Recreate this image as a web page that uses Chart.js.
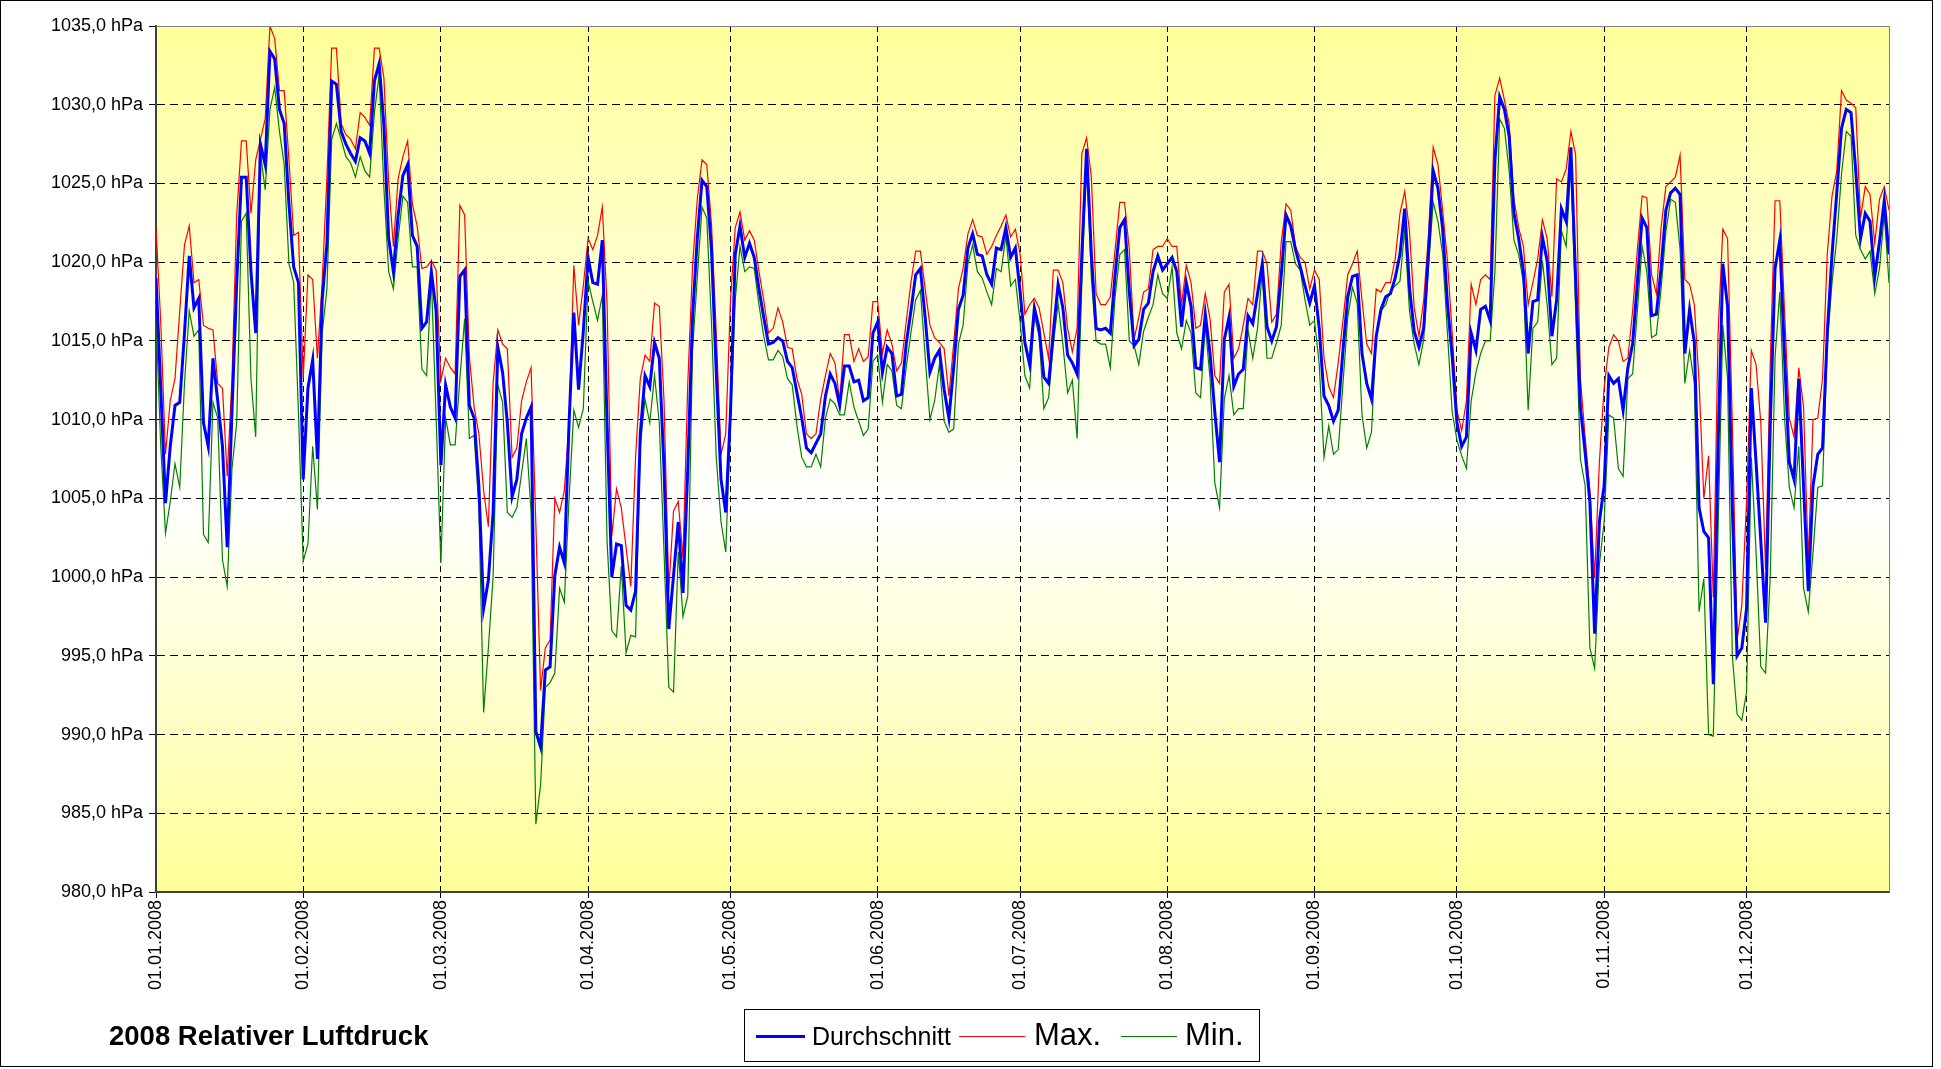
<!DOCTYPE html>
<html lang="de">
<head>
    <meta charset="UTF-8">
    <title>2008 Relativer Luftdruck</title>

    <!-- Chart.js CDN -->
    <script src="https://cdn.jsdelivr.net/npm/chart.js"></script>

    <style>
        html, body { margin: 0; padding: 0; background: #fff; }
        body { font-family: "Liberation Sans", Arial, sans-serif; }
        #wrap { position: relative; width: 1941px; height: 1069px; overflow: hidden; }
        #chart { position: absolute; left: 0; top: 0; }
        #frame {
            position: absolute; left: 0; top: 0; width: 1933px; height: 1067px;
            border: 1px solid #000; box-sizing: border-box; pointer-events: none;
        }
        #title {
            position: absolute; left: 109px; top: 1020px;
            font-weight: bold; font-size: 27.5px; line-height: 32px; white-space: nowrap;
        }
        #legend {
            position: absolute; left: 744px; top: 1009px; width: 516px; height: 53px;
            border: 1px solid #000; background: #fff; box-sizing: border-box;
        }
        #legend .line { position: absolute; height: 0; }
        #legend .txt { position: absolute; white-space: nowrap; }
    </style>
</head>
<body>
<div id="wrap">
    <canvas id="chart" width="1941" height="1069"></canvas>
    <div id="frame"></div>
    <div id="title">2008 Relativer Luftdruck</div>
    <div id="legend">
        <div class="line" style="left:11px; top:25px; width:49px; border-top:3px solid #0000ff;"></div>
        <div class="txt" style="left:67px; top:11px; font-size:25px; line-height:30px;">Durchschnitt</div>
        <div class="line" style="left:214px; top:26px; width:66px; border-top:1px solid #ff0000;"></div>
        <div class="txt" style="left:289px; top:6px; font-size:31px; line-height:38px;">Max.</div>
        <div class="line" style="left:376px; top:26px; width:56px; border-top:1px solid #008000;"></div>
        <div class="txt" style="left:440px; top:6px; font-size:31px; line-height:38px;">Min.</div>
    </div>
</div>

<script>
    // x axis: day index 0..365, labels at the first day of each month
    var monthStarts = [0, 31, 60, 91, 121, 152, 182, 213, 244, 274, 305, 335];
    var monthLabels = ['01.01.2008', '01.02.2008', '01.03.2008', '01.04.2008', '01.05.2008', '01.06.2008',
                       '01.07.2008', '01.08.2008', '01.09.2008', '01.10.2008', '01.11.2008', '01.12.2008'];

    // Durchschnitt (daily mean, hPa)
    var avgValues = [
        1019.0, 1012.0, 1004.7, 1008.3, 1010.9, 1011.1, 1015.5, 1020.4, 1017.1, 1017.7, 1009.8, 1008.3, 1013.9, 1011.2, 1008.3, 1001.9,
        1010.5, 1018.7, 1025.4, 1025.4, 1019.4, 1015.5, 1027.5, 1026.2, 1033.4, 1032.9, 1029.7, 1028.8, 1023.7, 1019.7, 1018.7,
        // Feb
        1006.2, 1012.0, 1013.8, 1007.5, 1017.6, 1021.2, 1031.5, 1031.3, 1028.3, 1027.5, 1026.9, 1026.4, 1027.9, 1027.7, 1026.9,
        1031.5, 1032.6, 1028.7, 1021.5, 1019.4, 1023.0, 1025.5, 1026.2, 1021.7, 1021.0, 1015.8, 1016.2, 1019.4, 1016.9,
        // Mar
        1007.1, 1012.2, 1010.8, 1010.1, 1019.1, 1019.5, 1010.9, 1010.1, 1005.8, 998.0, 999.8, 1004.1, 1014.6, 1013.0, 1009.8, 1005.1,
        1006.2, 1009.1, 1010.1, 1010.8, 990.2, 989.2, 994.1, 994.3, 1000.1, 1001.9, 1000.9, 1009.8, 1016.8, 1011.9, 1015.6,
        // Apr
        1020.3, 1018.7, 1018.6, 1021.4, 1009.8, 1000.0, 1002.1, 1002.0, 998.2, 997.9, 999.1, 1009.1, 1012.8, 1012.1, 1014.9,
        1013.9, 1006.9, 996.7, 1000.1, 1003.5, 999.0, 1006.9, 1016.5, 1021.5, 1025.2, 1024.8, 1020.8, 1013.0, 1006.2, 1004.1,
        // May
        1010.5, 1020.5, 1022.3, 1020.3, 1021.2, 1020.3, 1018.3, 1016.5, 1014.8, 1014.9, 1015.2, 1015.0, 1013.7, 1013.3, 1011.7, 1010.1,
        1008.2, 1007.9, 1008.5, 1009.1, 1011.5, 1012.9, 1012.3, 1010.9, 1013.4, 1013.4, 1012.4, 1012.5, 1011.2, 1011.4, 1015.5,
        // Jun
        1016.2, 1013.0, 1014.6, 1014.2, 1011.5, 1011.6, 1014.8, 1016.9, 1019.2, 1019.6, 1016.5, 1013.0, 1013.9, 1014.4, 1011.9,
        1010.1, 1013.3, 1017.0, 1017.9, 1020.9, 1021.8, 1020.5, 1020.4, 1019.2, 1018.6, 1020.9, 1020.8, 1022.2, 1020.3, 1020.9,
        // Jul
        1018.1, 1014.9, 1013.5, 1017.1, 1015.8, 1012.7, 1012.3, 1015.6, 1018.6, 1017.1, 1014.1, 1013.6, 1012.9, 1020.5, 1027.2, 1020.5,
        1015.8, 1015.7, 1015.8, 1015.5, 1019.2, 1022.2, 1022.7, 1018.1, 1014.7, 1015.1, 1017.0, 1017.4, 1019.4, 1020.4, 1019.5,
        // Aug
        1019.9, 1020.3, 1019.4, 1015.9, 1018.7, 1017.2, 1013.3, 1013.2, 1016.7, 1014.2, 1010.5, 1007.3, 1015.1, 1016.5, 1012.1, 1012.9,
        1013.2, 1016.6, 1016.1, 1018.0, 1019.9, 1015.9, 1015.0, 1015.9, 1019.2, 1023.0, 1022.3, 1020.8, 1019.7, 1018.5, 1017.4,
        // Sep
        1018.5, 1015.8, 1011.5, 1010.9, 1009.9, 1010.6, 1014.4, 1017.8, 1019.1, 1019.2, 1014.2, 1012.3, 1011.3, 1015.3, 1017.0,
        1017.8, 1018.0, 1019.0, 1020.5, 1023.4, 1018.4, 1015.6, 1014.6, 1015.8, 1020.5, 1025.8, 1024.7, 1022.1, 1017.4, 1014.0,
        // Oct
        1009.8, 1008.3, 1008.9, 1015.5, 1014.4, 1017.0, 1017.2, 1016.3, 1026.5, 1030.5, 1029.7, 1028.0, 1023.1, 1021.5, 1019.4, 1014.2,
        1017.5, 1017.6, 1021.6, 1020.1, 1015.3, 1017.6, 1023.4, 1022.6, 1027.3, 1019.0, 1010.8, 1007.9, 1004.8, 996.4, 1003.5,
        // Nov
        1005.8, 1012.8, 1012.3, 1012.6, 1010.6, 1013.3, 1014.8, 1018.7, 1022.8, 1022.2, 1016.6, 1016.7, 1019.6, 1023.3, 1024.4,
        1024.7, 1024.3, 1014.2, 1017.0, 1014.9, 1004.4, 1002.9, 1002.5, 993.2, 1008.4, 1019.9, 1017.2, 1004.4, 995.0, 995.5,
        // Dec
        998.0, 1012.0, 1007.3, 1002.3, 997.1, 1009.8, 1019.6, 1021.4, 1014.0, 1007.3, 1006.2, 1012.6, 1005.8, 999.1, 1005.8, 1007.8,
        1008.2, 1015.5, 1020.5, 1024.4, 1028.5, 1029.7, 1029.5, 1025.8, 1021.5, 1023.1, 1022.6, 1019.1, 1021.3, 1023.9, 1020.5
    ];

    // Max. (daily maximum, hPa)
    var maxValues = [
        1022.2, 1016.2, 1007.8, 1011.2, 1012.6, 1016.9, 1021.1, 1022.3, 1018.7, 1018.9, 1016.0, 1015.8, 1015.7, 1012.3, 1012.0, 1006.4,
        1012.6, 1023.0, 1027.7, 1027.7, 1023.1, 1026.5, 1027.8, 1029.1, 1035.0, 1034.2, 1030.9, 1030.9, 1026.5, 1021.7, 1021.9,
        // Feb
        1012.6, 1019.2, 1018.9, 1013.9, 1018.7, 1025.4, 1033.6, 1033.6, 1028.8, 1028.1, 1027.8, 1027.2, 1029.5, 1029.2, 1028.7,
        1033.6, 1033.6, 1031.7, 1025.1, 1021.0, 1025.3, 1026.7, 1027.7, 1023.7, 1022.3, 1019.6, 1019.7, 1020.1, 1019.5,
        // Mar
        1012.5, 1013.9, 1013.3, 1012.9, 1023.6, 1023.0, 1014.0, 1010.8, 1009.1, 1005.5, 1003.2, 1012.3, 1015.7, 1014.8, 1014.5, 1007.6,
        1008.2, 1011.2, 1012.4, 1013.3, 1003.4, 992.8, 995.5, 996.0, 1005.0, 1004.1, 1005.5, 1009.8, 1019.8, 1016.0, 1018.5,
        // Apr
        1021.5, 1020.8, 1021.7, 1023.5, 1017.4, 1002.6, 1005.6, 1004.4, 1001.9, 999.4, 1007.6, 1012.6, 1014.1, 1013.7, 1017.4,
        1017.2, 1011.2, 999.1, 1004.2, 1004.8, 1001.2, 1012.3, 1019.7, 1024.0, 1026.5, 1026.2, 1022.4, 1015.5, 1007.8, 1009.1,
        // May
        1017.6, 1022.2, 1023.2, 1021.4, 1022.0, 1021.4, 1019.4, 1017.6, 1015.5, 1015.8, 1017.1, 1016.2, 1014.6, 1014.5, 1012.6, 1011.6,
        1009.1, 1008.8, 1009.1, 1011.3, 1012.8, 1014.2, 1013.6, 1011.2, 1015.4, 1015.4, 1013.7, 1014.5, 1013.7, 1014.0, 1017.5,
        // Jun
        1017.5, 1014.2, 1015.7, 1014.8, 1013.1, 1013.6, 1016.2, 1018.7, 1020.7, 1020.7, 1018.3, 1016.0, 1015.2, 1014.9, 1014.5,
        1011.5, 1014.8, 1018.3, 1019.6, 1021.8, 1022.7, 1021.7, 1021.6, 1020.5, 1021.0, 1021.7, 1022.3, 1023.0, 1021.6, 1022.1,
        // Jul
        1020.5, 1016.7, 1017.3, 1017.7, 1017.1, 1015.5, 1013.9, 1019.5, 1019.5, 1018.7, 1015.8, 1014.3, 1015.8, 1026.9, 1027.9, 1025.4,
        1018.0, 1017.3, 1017.3, 1017.8, 1020.8, 1023.8, 1023.8, 1020.8, 1015.1, 1016.5, 1018.1, 1018.3, 1020.8, 1021.0, 1021.0,
        // Aug
        1021.5, 1021.0, 1021.0, 1017.3, 1019.8, 1018.7, 1015.8, 1016.0, 1018.0, 1016.4, 1012.8, 1012.3, 1018.1, 1018.6, 1013.9, 1014.5,
        1016.0, 1017.7, 1017.3, 1020.7, 1020.7, 1019.9, 1016.2, 1016.7, 1021.3, 1023.7, 1023.3, 1021.0, 1020.3, 1020.0, 1018.3,
        // Sep
        1019.5, 1018.9, 1013.9, 1012.1, 1011.4, 1013.6, 1016.3, 1019.2, 1019.9, 1020.7, 1017.6, 1014.8, 1014.2, 1018.3, 1018.1,
        1018.7, 1018.7, 1020.2, 1023.1, 1024.5, 1022.0, 1017.1, 1015.3, 1017.6, 1021.7, 1027.3, 1026.2, 1023.3, 1020.1, 1015.5,
        // Oct
        1010.6, 1009.3, 1011.2, 1018.6, 1017.3, 1018.9, 1019.2, 1018.9, 1030.6, 1031.7, 1030.3, 1028.8, 1024.0, 1022.2, 1021.0, 1017.3,
        1018.7, 1020.2, 1022.7, 1021.5, 1017.8, 1025.3, 1025.1, 1025.9, 1028.3, 1026.8, 1012.6, 1008.9, 1005.5, 1000.0, 1007.3,
        // Nov
        1012.0, 1014.6, 1015.4, 1015.0, 1013.7, 1013.9, 1016.9, 1020.8, 1024.2, 1024.1, 1019.2, 1018.0, 1022.2, 1024.8, 1025.1,
        1025.4, 1026.8, 1018.9, 1018.6, 1017.3, 1012.4, 1005.0, 1007.7, 998.7, 1015.5, 1022.1, 1021.5, 1009.8, 996.0, 998.2,
        // Dec
        1004.8, 1014.4, 1013.5, 1009.8, 1000.5, 1013.7, 1023.9, 1023.9, 1016.9, 1010.1, 1008.9, 1013.3, 1010.8, 1001.0, 1010.0, 1010.1,
        1012.6, 1020.5, 1024.2, 1025.8, 1030.9, 1030.3, 1030.1, 1029.8, 1022.8, 1024.8, 1024.3, 1021.2, 1024.0, 1024.8, 1023.3
    ];

    // Min. (daily minimum, hPa)
    var minValues = [
        1016.5, 1008.3, 1002.8, 1004.8, 1007.2, 1005.7, 1012.3, 1016.9, 1015.3, 1015.7, 1002.7, 1002.2, 1011.1, 1010.1, 1001.1, 999.4,
        1006.9, 1009.8, 1022.6, 1023.1, 1012.6, 1008.9, 1026.9, 1024.6, 1029.7, 1031.1, 1028.3, 1026.2, 1019.9, 1018.7, 1010.5,
        // Feb
        1001.0, 1002.1, 1008.3, 1004.3, 1015.5, 1018.3, 1027.8, 1028.8, 1027.8, 1026.7, 1026.3, 1025.4, 1026.7, 1025.8, 1025.4,
        1029.5, 1031.9, 1024.7, 1019.4, 1018.3, 1021.5, 1024.2, 1023.8, 1019.7, 1019.7, 1013.2, 1012.8, 1019.0, 1010.1,
        // Mar
        1000.9, 1010.1, 1008.4, 1008.4, 1012.6, 1016.4, 1008.8, 1009.0, 1004.4, 991.4, 995.5, 1000.0, 1012.2, 1011.1, 1004.1, 1003.8,
        1004.4, 1006.6, 1008.8, 1004.1, 984.3, 986.8, 993.0, 993.3, 993.9, 999.3, 998.4, 1005.0, 1010.6, 1009.5, 1010.7,
        // Apr
        1018.8, 1017.5, 1016.3, 1017.9, 1002.3, 996.6, 996.2, 1000.7, 995.2, 996.3, 996.2, 1008.3, 1011.3, 1009.8, 1012.8,
        1009.8, 1001.6, 993.0, 992.7, 1001.6, 997.5, 998.8, 1014.4, 1019.0, 1023.5, 1022.8, 1016.1, 1007.6, 1003.5, 1001.6,
        // May
        1009.8, 1017.6, 1021.0, 1019.4, 1019.7, 1019.6, 1017.3, 1015.3, 1013.8, 1013.8, 1014.4, 1014.0, 1012.6, 1012.2, 1009.6, 1007.6,
        1007.0, 1007.0, 1007.8, 1007.0, 1010.1, 1011.3, 1011.0, 1010.3, 1010.3, 1012.4, 1010.8, 1009.9, 1009.0, 1009.4, 1013.7,
        // Jun
        1014.1, 1011.1, 1013.5, 1013.1, 1010.9, 1010.7, 1013.3, 1015.5, 1017.6, 1018.2, 1014.0, 1010.0, 1011.2, 1013.5, 1009.9,
        1009.2, 1009.4, 1014.8, 1016.0, 1019.9, 1021.1, 1019.4, 1019.0, 1018.1, 1017.3, 1019.6, 1019.4, 1021.7, 1018.5, 1018.9,
        // Jul
        1016.2, 1012.8, 1012.0, 1016.6, 1015.3, 1010.7, 1011.4, 1014.8, 1017.4, 1014.8, 1011.7, 1012.5, 1008.8, 1018.7, 1026.7, 1019.0,
        1015.0, 1014.8, 1014.8, 1013.3, 1017.8, 1020.5, 1020.8, 1015.0, 1014.7, 1013.5, 1015.6, 1016.5, 1017.3, 1019.2, 1018.0,
        // Aug
        1017.7, 1019.7, 1015.5, 1014.5, 1016.3, 1015.5, 1011.7, 1011.4, 1016.0, 1012.6, 1006.0, 1004.4, 1011.3, 1012.8, 1010.3, 1010.7,
        1010.7, 1015.7, 1013.9, 1015.8, 1019.4, 1013.9, 1013.9, 1014.9, 1016.0, 1021.3, 1021.3, 1019.9, 1019.5, 1017.6, 1016.0,
        // Sep
        1016.3, 1013.5, 1007.6, 1009.6, 1007.8, 1008.1, 1012.3, 1016.5, 1018.4, 1017.4, 1010.3, 1008.2, 1009.2, 1015.3, 1016.9,
        1017.3, 1018.2, 1018.5, 1018.8, 1022.1, 1016.9, 1014.8, 1013.5, 1015.1, 1019.7, 1023.8, 1022.6, 1020.5, 1015.5, 1010.5,
        // Oct
        1008.7, 1007.7, 1006.9, 1011.2, 1013.0, 1014.2, 1015.0, 1015.0, 1019.4, 1029.1, 1028.5, 1025.8, 1021.4, 1020.5, 1018.7, 1010.6,
        1015.8, 1016.2, 1020.1, 1017.3, 1013.5, 1013.9, 1022.0, 1021.0, 1026.2, 1016.9, 1007.5, 1005.8, 995.5, 994.2, 1000.8,
        // Nov
        1003.5, 1010.3, 1010.1, 1006.9, 1006.4, 1012.6, 1012.9, 1016.9, 1021.0, 1019.4, 1015.2, 1015.4, 1018.3, 1021.9, 1024.0,
        1023.8, 1020.8, 1012.3, 1014.4, 1012.3, 997.8, 999.9, 990.0, 989.9, 1003.0, 1016.0, 1012.6, 995.0, 991.3, 990.9,
        // Dec
        992.7, 1007.6, 1001.6, 994.3, 993.9, 1000.1, 1014.0, 1018.1, 1010.1, 1005.7, 1004.4, 1008.3, 999.3, 997.8, 1001.6, 1005.7,
        1005.8, 1014.8, 1018.7, 1021.5, 1025.6, 1028.3, 1028.0, 1021.7, 1020.8, 1020.2, 1020.7, 1018.0, 1019.6, 1023.1, 1018.7
    ];

    var yMin = 980, yMax = 1035, yStep = 5;

    function toPoints(values) {
        return values.map(function (v, i) { return { x: i, y: v }; });
    }

    // yellow - white - yellow plot background, grey frame on top / right
    var plotBackground = {
        id: 'plotBackground',
        beforeDraw: function (chart) {
            var ctx = chart.ctx, a = chart.chartArea;
            var g = ctx.createLinearGradient(0, a.top, 0, a.bottom);
            g.addColorStop(0, '#ffff99');
            g.addColorStop(0.55, '#ffffff');
            g.addColorStop(1, '#ffff99');
            ctx.save();
            ctx.fillStyle = g;
            ctx.fillRect(a.left, a.top, a.right - a.left, a.bottom - a.top);
            ctx.restore();
        },
        afterDraw: function (chart) {
            var ctx = chart.ctx, a = chart.chartArea;
            ctx.save();
            ctx.strokeStyle = '#808080';
            ctx.lineWidth = 1;
            ctx.beginPath();
            ctx.moveTo(a.left, a.top + 0.5);
            ctx.lineTo(a.right + 0.5, a.top + 0.5);
            ctx.lineTo(a.right + 0.5, a.bottom);
            ctx.stroke();
            ctx.restore();
        }
    };

    var tickFont = { family: '"Liberation Sans", Arial, sans-serif', size: 18 };

    var ctx = document.getElementById('chart').getContext('2d');
    var chart = new Chart(ctx, {
        type: 'line',
        data: {
            datasets: [
                {
                    label: 'Durchschnitt',
                    data: toPoints(avgValues),
                    borderColor: '#0000ff',
                    borderWidth: 3,
                    pointRadius: 0,
                    tension: 0,
                    order: 0
                },
                {
                    label: 'Max.',
                    data: toPoints(maxValues),
                    borderColor: '#ff0000',
                    borderWidth: 1.2,
                    pointRadius: 0,
                    tension: 0,
                    order: 1
                },
                {
                    label: 'Min.',
                    data: toPoints(minValues),
                    borderColor: '#008000',
                    borderWidth: 1.2,
                    pointRadius: 0,
                    tension: 0,
                    order: 2
                }
            ]
        },
        options: {
            responsive: false,
            animation: false,
            devicePixelRatio: 1,
            layout: { padding: { top: 26, right: 52, left: 0, bottom: 0 } },
            plugins: {
                legend: { display: false },
                tooltip: { enabled: false }
            },
            scales: {
                x: {
                    type: 'linear',
                    min: 0,
                    max: 365,
                    afterBuildTicks: function (scale) {
                        scale.ticks = monthStarts.map(function (v) { return { value: v }; });
                    },
                    afterFit: function (scale) { scale.height = 177; },
                    ticks: {
                        autoSkip: false,
                        minRotation: 90,
                        maxRotation: 90,
                        padding: 2,
                        color: '#000',
                        font: tickFont,
                        callback: function (value) {
                            var i = monthStarts.indexOf(value);
                            return i >= 0 ? monthLabels[i] : '';
                        }
                    },
                    grid: {
                        color: function (c) { return c.tick && c.tick.value === 0 ? 'rgba(0,0,0,0)' : '#000'; },
                        tickColor: '#000',
                        lineWidth: 1,
                        tickLength: 6
                    },
                    // in v4 border.dash sets the dash of the grid lines
                    border: { display: true, color: '#404040', width: 2, dash: [6, 4] }
                },
                y: {
                    min: yMin,
                    max: yMax,
                    afterFit: function (scale) { scale.width = 156; },
                    ticks: {
                        stepSize: yStep,
                        padding: 6,
                        color: '#000',
                        font: tickFont,
                        callback: function (value) {
                            return value.toFixed(1).replace('.', ',') + ' hPa';
                        }
                    },
                    grid: {
                        color: function (c) {
                            var v = c.tick && c.tick.value;
                            return (v === yMin || v === yMax) ? 'rgba(0,0,0,0)' : '#000';
                        },
                        tickColor: '#000',
                        lineWidth: 1,
                        tickLength: 7
                    },
                    border: { display: true, color: '#404040', width: 2, dash: [8, 5] }
                }
            }
        },
        plugins: [plotBackground]
    });
</script>
</body>
</html>
